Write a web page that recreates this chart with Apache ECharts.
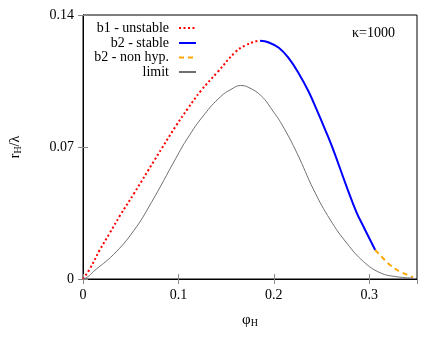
<!DOCTYPE html>
<html>
<head>
<meta charset="utf-8">
<script src="https://cdn.jsdelivr.net/npm/echarts@6/dist/echarts.min.js"></script>
<style>html,body{margin:0;padding:0;background:#fff}#c{width:444px;height:342px}</style>
</head>
<body>
<div id="c"></div>
<script>
// Data: [phi_H, r_H/lambda]
const b1Unstable = [[0,0],[0.0073,0.0055],[0.0177,0.0155],[0.0282,0.0245],[0.0386,0.0335],[0.054,0.0458],[0.075,0.0631],[0.0974,0.0812],[0.11,0.0905],[0.1235,0.0998],[0.141,0.1097],[0.16,0.1205],[0.1705,0.124],[0.1809,0.126],[0.1855,0.1263]];
const b2Stable = [[0.1855,0.1263],[0.1948,0.1254],[0.2052,0.1226],[0.2157,0.117],[0.2261,0.109],[0.2365,0.0993],[0.2453,0.0893],[0.2535,0.0795],[0.2615,0.0695],[0.2766,0.0485],[0.2865,0.0355],[0.294,0.0277],[0.3062,0.0154]];
const b2NonHyp = [[0.3062,0.0154],[0.317,0.0097],[0.3218,0.0074],[0.3323,0.0039],[0.346,0.001]];
const limitCurve = [[0,0],[0.0052,0.0012],[0.0108,0.0039],[0.032,0.013],[0.053,0.0255],[0.0716,0.0405],[0.0974,0.0641],[0.1096,0.0747],[0.1269,0.0871],[0.1444,0.0968],[0.155,0.1005],[0.1652,0.1026],[0.1739,0.1015],[0.187,0.097],[0.1983,0.0896],[0.2088,0.0816],[0.2244,0.0666],[0.2418,0.0472],[0.2592,0.0313],[0.2766,0.0189],[0.294,0.0092],[0.3114,0.0033],[0.3288,0.0012],[0.346,0.0005]];
const seriesNames = ['b1 - unstable','b2 - stable','b2 - non hyp.','limit'];
const xTicks = {min:0, max:0.35, interval:0.1};
const yTicks = {min:0, max:0.14, interval:0.07};
const annotation = 'κ=1000';

const FONT = 'Liberation Serif';
const chart = echarts.init(document.getElementById('c'), null, {renderer:'canvas'});
const tickStyle = {show:true, inside:true, length:5, lineStyle:{color:'#888', width:1}};
const legendRows = [21, 36, 50.5, 65];
const legends = seriesNames.map((n,i)=>({
  data:[n], orient:'vertical', right:247, top:legendRows[i], align:'right',
  itemWidth:17, itemHeight:14, padding:0, selectedMode:false,
  itemStyle:{opacity:0},
  textStyle:{fontFamily:FONT, fontSize:14, color:'#000', padding:[0,5,0,0]}
}));
const lineSeries = (name, data, color, width, type) => ({
  name, type:'line', data, showSymbol:false, symbol:'none', smooth:0.45,
  lineStyle:{color, width, type, cap:'butt'}, itemStyle:{color}, animation:false
});
chart.setOption({
  animation:false,
  title:{text:annotation, right:49, top:26, padding:0, textStyle:{fontFamily:FONT, fontSize:14, fontWeight:'normal', color:'#000'}},
  legend:legends,
  grid:{left:81, right:27, top:15, bottom:63, show:true, borderColor:'#000', borderWidth:1},
  xAxis:[{
    type:'value', min:xTicks.min, max:xTicks.max, interval:xTicks.interval, position:'bottom',
    name:'{a|φ}{s|H}', nameLocation:'middle', nameGap:33,
    nameTextStyle:{rich:{a:{fontFamily:FONT, fontSize:15, color:'#000'}, s:{fontFamily:FONT, fontSize:10, color:'#000', verticalAlign:'bottom', padding:[6,0,0,0]}}},
    axisLine:{show:true, lineStyle:{color:'#000', width:1}}, axisTick:tickStyle,
    axisLabel:{fontFamily:FONT, fontSize:14, color:'#000', margin:9, showMaxLabel:false},
    splitLine:{show:false}
  },{
    type:'value', min:xTicks.min, max:xTicks.max, interval:xTicks.interval, position:'top',
    axisLine:{show:false}, axisTick:tickStyle, axisLabel:{show:false}, splitLine:{show:false}
  }],
  yAxis:[{
    type:'value', min:yTicks.min, max:yTicks.max, interval:yTicks.interval, position:'left',
    name:'{a|r}{s|H}{a|/λ}', nameLocation:'middle', nameGap:60,
    nameTextStyle:{rich:{a:{fontFamily:FONT, fontSize:14, color:'#000'}, s:{fontFamily:FONT, fontSize:10, color:'#000', verticalAlign:'bottom', padding:[6,0,0,0]}}},
    axisLine:{show:true, lineStyle:{color:'#000', width:1}}, axisTick:tickStyle,
    axisLabel:{fontFamily:FONT, fontSize:14, color:'#000', margin:9},
    splitLine:{show:false}
  },{
    type:'value', min:yTicks.min, max:yTicks.max, interval:yTicks.interval, position:'right',
    axisLine:{show:false}, axisTick:tickStyle, axisLabel:{show:false}, splitLine:{show:false}
  }],
  series:[
    lineSeries(seriesNames[0], b1Unstable, '#ff0000', 2, [2,2.5]),
    lineSeries(seriesNames[1], b2Stable, '#0000ff', 2, 'solid'),
    lineSeries(seriesNames[2], b2NonHyp, '#ffa500', 2, [5,4]),
    lineSeries(seriesNames[3], limitCurve, '#707070', 1, 'solid')
  ]
});
</script>
</body>
</html>
